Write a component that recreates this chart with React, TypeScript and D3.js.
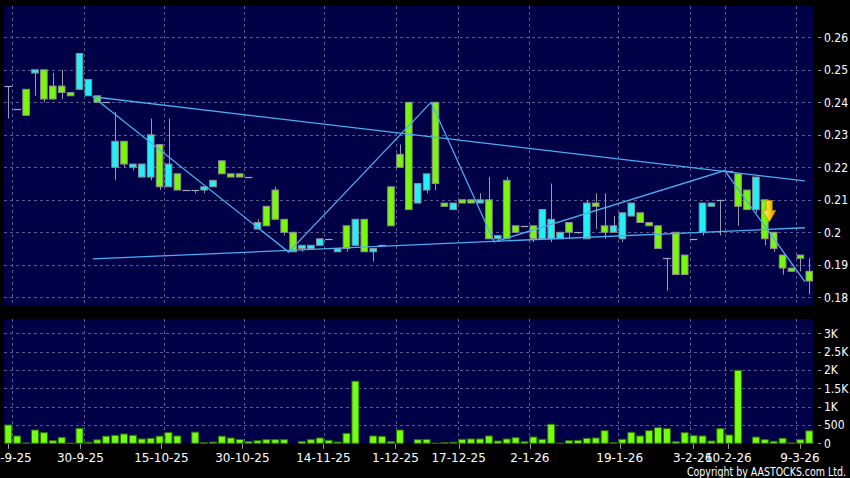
// @ts-nocheck

import { useEffect, useRef } from "react";
import * as d3 from "d3";

// daily candles, oldest first
const opens = [
  0.245, 0.238, 0.244, 0.249, 0.25, 0.245, 0.245, 0.243, 0.244, 0.242,
  0.242, 0.24, 0.22, 0.228, 0.22, 0.217, 0.217, 0.227, 0.214, 0.218,
  0.213, 0.213, 0.213, 0.214, 0.222, 0.218, 0.218, 0.217, 0.201, 0.208,
  0.213, 0.204, 0.2, 0.195, 0.195, 0.196, 0.198, 0.194, 0.202, 0.196,
  0.204, 0.194, 0.196, 0.214, 0.224, 0.24, 0.209, 0.213, 0.24, 0.209,
  0.207, 0.21, 0.21, 0.209, 0.21, 0.198, 0.216, 0.202, 0.202, 0.202,
  0.198, 0.198, 0.198, 0.203, 0.2, 0.198, 0.209, 0.202, 0.2, 0.198,
  0.205, 0.206, 0.203, 0.202, 0.192, 0.2, 0.193, 0.198, 0.2, 0.208,
  0.21, 0.219, 0.218, 0.213, 0.207, 0.21, 0.2, 0.193, 0.189, 0.193,
  0.188,
];
const highs = [
  0.245, 0.238, 0.244, 0.25, 0.25, 0.249, 0.25, 0.243, 0.255, 0.247,
  0.242, 0.24, 0.237, 0.228, 0.221, 0.221, 0.235, 0.227, 0.235, 0.218,
  0.213, 0.213, 0.214, 0.216, 0.222, 0.218, 0.218, 0.217, 0.204, 0.208,
  0.214, 0.204, 0.2, 0.196, 0.196, 0.198, 0.198, 0.195, 0.202, 0.204,
  0.204, 0.195, 0.196, 0.214, 0.227, 0.24, 0.215, 0.218, 0.24, 0.209,
  0.209, 0.21, 0.21, 0.212, 0.217, 0.199, 0.217, 0.202, 0.202, 0.202,
  0.207, 0.215, 0.2, 0.203, 0.2, 0.21, 0.212, 0.212, 0.205, 0.206,
  0.209, 0.206, 0.203, 0.202, 0.192, 0.2, 0.193, 0.198, 0.209, 0.209,
  0.21, 0.219, 0.218, 0.213, 0.217, 0.21, 0.2, 0.193, 0.189, 0.193,
  0.192,
];
const lows = [
  0.235, 0.238, 0.236, 0.242, 0.24, 0.241, 0.241, 0.242, 0.244, 0.242,
  0.24, 0.24, 0.216, 0.22, 0.219, 0.217, 0.216, 0.213, 0.214, 0.213,
  0.213, 0.212, 0.212, 0.214, 0.218, 0.217, 0.217, 0.217, 0.201, 0.202,
  0.204, 0.199, 0.194, 0.194, 0.195, 0.196, 0.198, 0.194, 0.194, 0.196,
  0.194, 0.191, 0.196, 0.202, 0.22, 0.207, 0.209, 0.212, 0.213, 0.208,
  0.207, 0.209, 0.209, 0.209, 0.198, 0.197, 0.198, 0.2, 0.202, 0.197,
  0.198, 0.197, 0.198, 0.198, 0.1995, 0.198, 0.201, 0.198, 0.2, 0.197,
  0.205, 0.203, 0.202, 0.195, 0.182, 0.187, 0.187, 0.198, 0.199, 0.208,
  0.199, 0.219, 0.202, 0.207, 0.206, 0.196, 0.194, 0.187, 0.188, 0.188,
  0.181,
];
const closes = [
  0.245, 0.238, 0.236, 0.25, 0.241, 0.241, 0.243, 0.242, 0.255, 0.247,
  0.24, 0.24, 0.228, 0.221, 0.221, 0.221, 0.23, 0.214, 0.221, 0.213,
  0.213, 0.213, 0.214, 0.216, 0.218, 0.217, 0.217, 0.217, 0.203, 0.202,
  0.204, 0.2, 0.194, 0.196, 0.196, 0.198, 0.198, 0.195, 0.195, 0.204,
  0.194, 0.195, 0.196, 0.202, 0.22, 0.207, 0.215, 0.218, 0.215, 0.208,
  0.209, 0.209, 0.209, 0.21, 0.198, 0.199, 0.198, 0.2, 0.202, 0.198,
  0.207, 0.204, 0.2, 0.2, 0.2, 0.209, 0.208, 0.2, 0.202, 0.206,
  0.209, 0.203, 0.202, 0.195, 0.192, 0.187, 0.187, 0.198, 0.209, 0.209,
  0.21, 0.219, 0.208, 0.207, 0.217, 0.198, 0.195, 0.189, 0.188, 0.192,
  0.185,
];
const volumes = [
  500, 200, 10, 363, 290, 72, 163, 5, 409, 30,
  95, 195, 218, 254, 218, 118, 136, 195, 295, 200,
  0, 305, 15, 35, 195, 145, 105, 45, 72, 100,
  100, 100, 0, 50, 100, 145, 82, 35, 272, 1695,
  0, 200, 190, 45, 363, 0, 100, 105, 5, 15,
  30, 109, 118, 118, 200, 63, 118, 154, 45, 172,
  109, 520, 5, 72, 82, 136, 145, 345, 15, 109,
  300, 200, 345, 427, 400, 45, 290, 209, 200, 63,
  400, 227, 1990, 0, 170, 100, 55, 137, 10, 100,
  340,
];

// date axis (positions are in candle index units)
const tickLabels = [
  "16-9-25", "30-9-25", "15-10-25", "30-10-25", "14-11-25", "1-12-25",
  "17-12-25", "2-1-26", "19-1-26", "3-2-26", "10-2-26", "9-3-26",
];
const tickIndex = [0, 8.1, 17.2, 26.3, 35.4, 43.5, 50.6, 58.6, 68.7, 76.9, 80.9, 88.95];

const priceTicks = [0.18, 0.19, 0.2, 0.21, 0.22, 0.23, 0.24, 0.25, 0.26];
const priceTickLabels = ["0.18", "0.19", "0.2", "0.21", "0.22", "0.23", "0.24", "0.25", "0.26"];
const volumeTicks = [0, 500, 1000, 1500, 2000, 2500, 3000];
const volumeTickLabels = ["0", "500", "1K", "1.5K", "2K", "2.5K", "3K"];

// drawn studies
const zigzag = [
  { i: 9.5, p: 0.2417 },
  { i: 31.5, p: 0.1939 },
  { i: 47.5, p: 0.24 },
  { i: 54.6, p: 0.197 },
  { i: 80.5, p: 0.219 },
  { i: 89.5, p: 0.1848 },
];
const upperTrend = [
  { i: 9.5, p: 0.2417 },
  { i: 89.5, p: 0.2158 },
];
const lowerTrend = [
  { i: 9.5, p: 0.1918 },
  { i: 89.5, p: 0.2014 },
];
const signal = { i: 85.5, p: 0.2098 };

const App = () => {
  const ref = useRef<HTMLDivElement>(null);

  useEffect(() => {
    if (!ref.current) return;
    const width = 850;
    const height = 478;
    const plot = { left: 4, right: 813.3 };
    const pricePanel = { top: 6, bottom: 306 };
    const volPanel = { top: 319, bottom: 443.3 };
    const font = "'DejaVu Sans', sans-serif";
    const axisFont = "'DejaVu Sans Condensed', 'DejaVu Sans', sans-serif";

    d3.select(ref.current).selectAll("*").remove();

    const candles = opens.map((o, i) => ({
      i,
      o,
      h: highs[i],
      l: lows[i],
      c: closes[i],
      v: volumes[i],
    }));

    const svg = d3
      .select(ref.current)
      .append("svg")
      .attr("width", width)
      .attr("height", height)
      .style("position", "absolute")
      .style("left", 0)
      .style("top", 0)
      .style("background", "#000");

    const x = d3.scaleLinear().domain([0, 90]).range([8.3, 809.3]);
    const xGrid = d3.scaleLinear().domain([0, 90]).range([12.3, 805.2]);
    const y = d3.scaleLinear().domain([0.17732, 0.26963]).range([pricePanel.bottom, pricePanel.top]);
    const yv = d3.scaleLinear().domain([0, 3390]).range([volPanel.bottom, volPanel.top]);

    const defs = svg.append("defs");
    const grad = defs
      .append("linearGradient")
      .attr("id", "arrowGrad")
      .attr("x1", "0%")
      .attr("x2", "100%");
    grad.append("stop").attr("offset", "0%").attr("stop-color", "#fff3a0");
    grad.append("stop").attr("offset", "45%").attr("stop-color", "#ffd21a");
    grad.append("stop").attr("offset", "100%").attr("stop-color", "#d98c00");

    // panels
    [pricePanel, volPanel].forEach((p) => {
      svg
        .append("rect")
        .attr("x", plot.left)
        .attr("y", p.top)
        .attr("width", plot.right - plot.left)
        .attr("height", p.bottom - p.top)
        .attr("fill", "#000046");
    });

    const gridColor = "#5a5a92";
    const grid = svg.append("g").attr("stroke", gridColor).attr("stroke-dasharray", "3,3");
    priceTicks.forEach((t) => {
      grid
        .append("line")
        .attr("x1", plot.left)
        .attr("x2", plot.right)
        .attr("y1", Math.round(y(t)) + 0.5)
        .attr("y2", Math.round(y(t)) + 0.5);
    });
    volumeTicks.slice(1).forEach((t) => {
      grid
        .append("line")
        .attr("x1", plot.left)
        .attr("x2", plot.right)
        .attr("y1", Math.round(yv(t)) + 0.5)
        .attr("y2", Math.round(yv(t)) + 0.5);
    });
    tickIndex.forEach((t) => {
      [pricePanel, volPanel].forEach((p) => {
        grid
          .append("line")
          .attr("x1", Math.round(xGrid(t)) + 0.5)
          .attr("x2", Math.round(xGrid(t)) + 0.5)
          .attr("y1", p.top)
          .attr("y2", p.bottom);
      });
    });

    // candles
    const bodyW = 6.6;
    const cg = svg.append("g");
    cg.selectAll("line.wick")
      .data(candles)
      .join("line")
      .attr("class", "wick")
      .attr("x1", (d) => Math.round(x(d.i)) + 0.5)
      .attr("x2", (d) => Math.round(x(d.i)) + 0.5)
      .attr("y1", (d) => y(d.h))
      .attr("y2", (d) => y(d.l))
      .attr("stroke", "#9a9aa8")
      .attr("stroke-width", 1);

    cg.selectAll("line.doji")
      .data(candles.filter((d) => d.o === d.c))
      .join("line")
      .attr("class", "doji")
      .attr("x1", (d) => x(d.i) - bodyW / 2 - 0.5)
      .attr("x2", (d) => x(d.i) + bodyW / 2 + 0.5)
      .attr("y1", (d) => Math.round(y(d.o)) + 0.5)
      .attr("y2", (d) => Math.round(y(d.o)) + 0.5)
      .attr("stroke", "#a4aac4")
      .attr("stroke-width", 1.2);

    cg.selectAll("rect.body")
      .data(candles.filter((d) => d.o !== d.c))
      .join("rect")
      .attr("class", "body")
      .attr("x", (d) => x(d.i) - bodyW / 2)
      .attr("y", (d) => y(Math.max(d.o, d.c)))
      .attr("width", bodyW)
      .attr("height", (d) => Math.max(1, Math.abs(y(d.o) - y(d.c))))
      .attr("fill", (d) => (d.c > d.o ? "#1ff0fa" : "#78f70a"))
      .attr("stroke", "#8e8e8e")
      .attr("stroke-width", 1);

    // studies
    const line = d3
      .line()
      .x((d) => x(d.i))
      .y((d) => y(d.p));
    [zigzag, upperTrend, lowerTrend].forEach((pts) => {
      svg
        .append("path")
        .datum(pts)
        .attr("d", line)
        .attr("fill", "none")
        .attr("stroke", "#4aaef0")
        .attr("stroke-width", 1.3);
    });

    // sell signal arrow
    svg
      .append("path")
      .attr("transform", `translate(${x(signal.i)}, ${y(signal.p)})`)
      .attr("d", "M-3,0 L3,0 L3,10 L6.5,10 L0,21.5 L-6.5,10 L-3,10 Z")
      .attr("fill", "url(#arrowGrad)")
      .attr("stroke", "#c98a00")
      .attr("stroke-width", 0.7);

    // volume bars
    const barW = 7;
    svg
      .append("g")
      .selectAll("rect")
      .data(candles.filter((d) => d.v > 0))
      .join("rect")
      .attr("x", (d) => x(d.i) - barW / 2)
      .attr("y", (d) => yv(d.v))
      .attr("width", barW)
      .attr("height", (d) => yv(0) - yv(d.v))
      .attr("fill", "#74ff12")
      .attr("stroke", "#2c7000")
      .attr("stroke-width", 1);

    // right axes
    const axisG = svg.append("g").attr("font-family", axisFont).attr("font-size", 12).attr("fill", "#fff");
    const addRightAxis = (ticks, labels, scale) => {
      ticks.forEach((t, k) => {
        svg
          .append("line")
          .attr("x1", 818)
          .attr("x2", 821)
          .attr("y1", Math.round(scale(t)) + 0.5)
          .attr("y2", Math.round(scale(t)) + 0.5)
          .attr("stroke", "#9a9a9a");
        axisG
          .append("text")
          .attr("x", 824)
          .attr("y", scale(t))
          .attr("dy", "0.36em")
          .text(labels[k]);
      });
    };
    addRightAxis(priceTicks, priceTickLabels, y);
    addRightAxis(volumeTicks, volumeTickLabels, yv);

    // date axis
    const xAxisG = svg.append("g").attr("font-family", font).attr("font-size", 12).attr("fill", "#fff");
    tickIndex.forEach((t, k) => {
      svg
        .append("line")
        .attr("x1", Math.round(x(t)) + 0.5)
        .attr("x2", Math.round(x(t)) + 0.5)
        .attr("y1", volPanel.bottom + 0.7)
        .attr("y2", volPanel.bottom + 5.5)
        .attr("stroke", "#9a9a9a");
      xAxisG
        .append("text")
        .attr("x", x(t))
        .attr("y", 462)
        .attr("text-anchor", "middle")
        .text(tickLabels[k]);
    });

    svg
      .append("text")
      .attr("x", 846)
      .attr("y", 475.5)
      .attr("text-anchor", "end")
      .attr("font-family", font)
      .attr("font-size", 12)
      .attr("fill", "#fff")
      .attr("textLength", 159)
      .attr("lengthAdjust", "spacingAndGlyphs")
      .text("Copyright by AASTOCKS.com Ltd.");
  }, []);

  return <div ref={ref} style={{ width: 850, height: 478 }}></div>;
};

export default App;
